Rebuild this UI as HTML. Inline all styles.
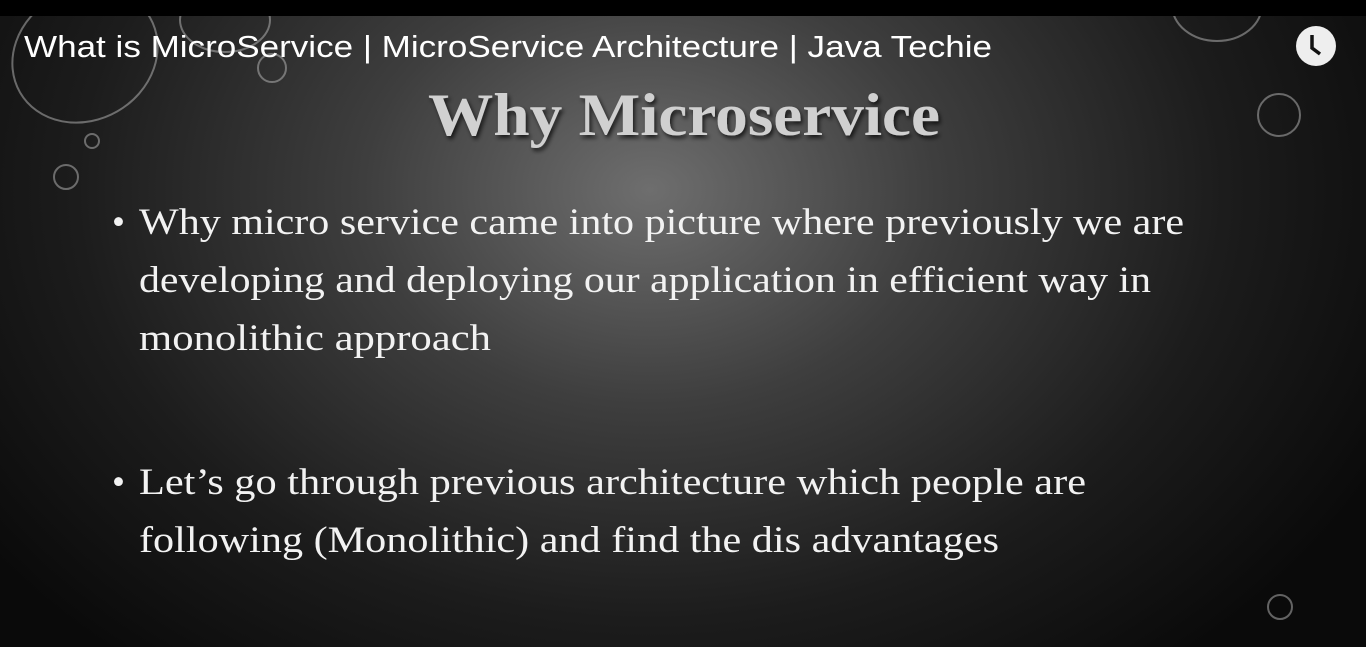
<!DOCTYPE html>
<html><head><meta charset="utf-8"><style>
html,body{margin:0;padding:0;width:1366px;height:647px;overflow:hidden;background:#000}
</style></head><body>
<svg width="1366" height="647" viewBox="0 0 1366 647" xmlns="http://www.w3.org/2000/svg">
<defs>
<radialGradient id="bg" cx="650" cy="190" r="820" gradientUnits="userSpaceOnUse" gradientTransform="translate(650 190) scale(1 0.75) translate(-650 -190)">
<stop offset="0" stop-color="#6e6e6e"/><stop offset="0.35" stop-color="#3e3e3e"/><stop offset="0.7" stop-color="#1c1c1c"/><stop offset="1" stop-color="#0a0a0a"/>
</radialGradient>
<filter id="sh"><feDropShadow dx="2" dy="3" stdDeviation="2" flood-color="#000" flood-opacity="0.7"/></filter>
</defs>
<rect x="0" y="16" width="1366" height="631" fill="url(#bg)"/>
<g fill="none" stroke="#bbb" stroke-opacity="0.5">
<ellipse cx="85" cy="55" rx="75" ry="65" stroke-width="2" transform="rotate(-30 85 55)"/>
<ellipse cx="225" cy="20" rx="45" ry="32" stroke-width="2"/>
<circle cx="272" cy="68" r="14" stroke-width="2"/>
<circle cx="92" cy="141" r="7" stroke-width="2"/>
<circle cx="66" cy="177" r="12" stroke-width="2"/>
<ellipse cx="1217" cy="5" rx="45" ry="36" stroke-width="2"/>
<circle cx="1279" cy="115" r="21" stroke-width="2"/>
<circle cx="1280" cy="607" r="12" stroke-width="2"/>
</g>
<rect x="0" y="0" width="1366" height="16" fill="#000"/>
<text x="24" y="57" font-family="Liberation Sans, sans-serif" font-size="31" fill="#fff" textLength="968" lengthAdjust="spacingAndGlyphs">What is MicroService | MicroService Architecture | Java Techie</text>
<circle cx="1316" cy="46" r="20" fill="#eee"/>
<path d="M1312 35 V48 L1320 54" stroke="#111" stroke-width="3.5" fill="none"/>
<text x="428" y="135" font-family="Liberation Serif, serif" font-weight="bold" font-size="60" fill="#d0d0d0" filter="url(#sh)" textLength="512" lengthAdjust="spacingAndGlyphs">Why Microservice</text>
<g font-family="Liberation Serif, serif" font-size="37" fill="#f2f2f2">
<text x="112" y="234">•</text>
<text x="139" y="234" textLength="1045" lengthAdjust="spacingAndGlyphs">Why micro service came into picture where previously we are</text>
<text x="139" y="292" textLength="1012" lengthAdjust="spacingAndGlyphs">developing and deploying our application in efficient way in</text>
<text x="139" y="350" textLength="352" lengthAdjust="spacingAndGlyphs">monolithic approach</text>
<text x="112" y="494">•</text>
<text x="139" y="494" textLength="947" lengthAdjust="spacingAndGlyphs">Let’s go through previous architecture which people are</text>
<text x="139" y="552" textLength="860" lengthAdjust="spacingAndGlyphs">following (Monolithic)  and find the dis advantages</text>
</g>
</svg>
</body></html>
